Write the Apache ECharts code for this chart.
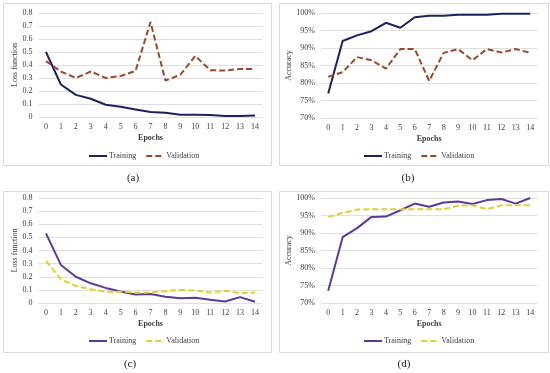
<!DOCTYPE html>
<html><head><meta charset="utf-8">
<script src="https://cdn.jsdelivr.net/npm/echarts@6/dist/echarts.min.js"></script>
<style>html,body{margin:0;padding:0;background:#fff}#c{width:550px;height:373px}</style>
</head><body><div id="c"></div>
<script>
const epochs = ['0','1','2','3','4','5','6','7','8','9','10','11','12','13','14'];
const lossTrainA = [0.50,0.25,0.17,0.14,0.094,0.078,0.058,0.038,0.032,0.018,0.018,0.016,0.008,0.008,0.011];
const lossValA   = [0.43,0.35,0.30,0.35,0.30,0.315,0.355,0.73,0.28,0.325,0.47,0.36,0.357,0.37,0.37];
const accTrainB  = [77.0,92.0,93.6,94.8,97.2,95.8,98.8,99.2,99.2,99.5,99.5,99.5,99.8,99.8,99.8];
const accValB    = [81.8,83.1,87.4,86.5,84.1,89.7,89.7,80.6,88.6,89.7,86.5,89.7,88.7,89.7,88.6];
const lossTrainC = [0.53,0.29,0.20,0.15,0.115,0.088,0.065,0.068,0.047,0.036,0.04,0.025,0.012,0.045,0.01];
const lossValC   = [0.32,0.18,0.13,0.105,0.085,0.087,0.08,0.08,0.09,0.10,0.095,0.08,0.093,0.075,0.08];
const accTrainD  = [73.5,88.8,91.4,94.6,94.7,96.5,98.4,97.5,98.7,99.0,98.3,99.4,99.7,98.4,100.0];
const accValD    = [94.6,95.7,96.7,96.8,96.8,96.8,96.8,96.8,96.8,97.8,97.9,96.8,97.9,97.9,97.9];
const panelLabels = ['(a)','(b)','(c)','(d)'];

const FONT = '"Liberation Serif", "Times New Roman", serif';
const NAVY = '#1c2160', BROWN = '#9e4828', PURPLE = '#5b3a9e', YELLOW = '#e2d02e';

const grids = [
  {left:38.5, top:13, width:224, height:104},
  {left:321, top:13, width:216.4, height:105},
  {left:38.5, top:198, width:224, height:105},
  {left:321, top:198, width:216.4, height:105}
];
function xAx(i){return {type:'category', gridIndex:i, data:epochs, boundaryGap:true,
  axisLine:{show:false}, axisTick:{show:false},
  axisLabel:{fontFamily:FONT, fontSize:8, color:'#404040', margin:6},
  name:'Epochs', nameLocation:'middle', nameGap:17,
  nameTextStyle:{fontFamily:FONT, fontSize:8, fontWeight:'bold', color:'#404040'}};}
function yLoss(i){return {type:'value', gridIndex:i, min:0, max:0.8, interval:0.1,
  axisLine:{show:false}, axisTick:{show:false},
  axisLabel:{fontFamily:FONT, fontSize:8, color:'#404040', margin:6, formatter:v=>v===0?'0':v.toFixed(1)},
  splitLine:{lineStyle:{color:'#e0e0e0', width:1}},
  name:'Loss function', nameLocation:'middle', nameGap:19,
  nameTextStyle:{fontFamily:FONT, fontSize:8, color:'#404040'}};}
function yAcc(i){return {type:'value', gridIndex:i, min:70, max:100, interval:5,
  axisLine:{show:false}, axisTick:{show:false},
  axisLabel:{fontFamily:FONT, fontSize:8, color:'#404040', margin:6, formatter:v=>v+'%'},
  splitLine:{lineStyle:{color:'#e0e0e0', width:1}},
  name:'Accuracy', nameLocation:'middle', nameGap:26,
  nameTextStyle:{fontFamily:FONT, fontSize:8, color:'#404040'}};}
function ser(name,i,data,color,dashed){return {type:'line', name:name, xAxisIndex:i, yAxisIndex:i,
  data:data, symbol:'none', smooth:false,
  lineStyle:{color:color, width:2, type:dashed?[6,3]:'solid'}, itemStyle:{color:color}};}
function leg(x,y,names){return {data:names, left:x, top:y, padding:0, itemWidth:18, itemHeight:8, itemGap:9,
  orient:'horizontal', textStyle:{fontFamily:FONT, fontSize:8, color:'#404040', padding:[0,0,0,-3]},
  itemStyle:{color:'transparent', borderWidth:0, opacity:0},
  formatter:n=>n.replace(/ .*/,''), selectedMode:false};}

const boxes = [[3,3,268,162],[279,3,269,162],[3,191,268,161],[279,191,269,161]];
const labelPos = [[133,178],[408,178],[130,364],[404,364]];
const graphic = [];
boxes.forEach(b=>graphic.push({type:'rect', shape:{x:b[0]+0.5,y:b[1]+0.5,width:b[2],height:b[3]}, style:{fill:null, stroke:'#d9d9d9', lineWidth:1}, z:-1}));
panelLabels.forEach((t,i)=>graphic.push({type:'text', x:labelPos[i][0], y:labelPos[i][1], style:{text:t, fontFamily:FONT, fontSize:11, fill:'#222', align:'center', verticalAlign:'middle'}}));

const option = {
  animation:false, backgroundColor:'#fff',
  grid:grids,
  xAxis:[xAx(0),xAx(1),xAx(2),xAx(3)],
  yAxis:[yLoss(0),yAcc(1),yLoss(2),yAcc(3)],
  legend:[
    leg(88,152,['Training a','Validation a']),
    leg(363,152,['Training b','Validation b']),
    leg(88,337,['Training c','Validation c']),
    leg(363,337,['Training d','Validation d'])
  ],
  series:[
    ser('Training a',0,lossTrainA,NAVY,false), ser('Validation a',0,lossValA,BROWN,true),
    ser('Training b',1,accTrainB,NAVY,false), ser('Validation b',1,accValB,BROWN,true),
    ser('Training c',2,lossTrainC,PURPLE,false), ser('Validation c',2,lossValC,YELLOW,true),
    ser('Training d',3,accTrainD,PURPLE,false), ser('Validation d',3,accValD,YELLOW,true)
  ],
  graphic:graphic
};
const chart = echarts.init(document.getElementById('c'), null, {renderer:'canvas'});
chart.setOption(option);
</script></body></html>
